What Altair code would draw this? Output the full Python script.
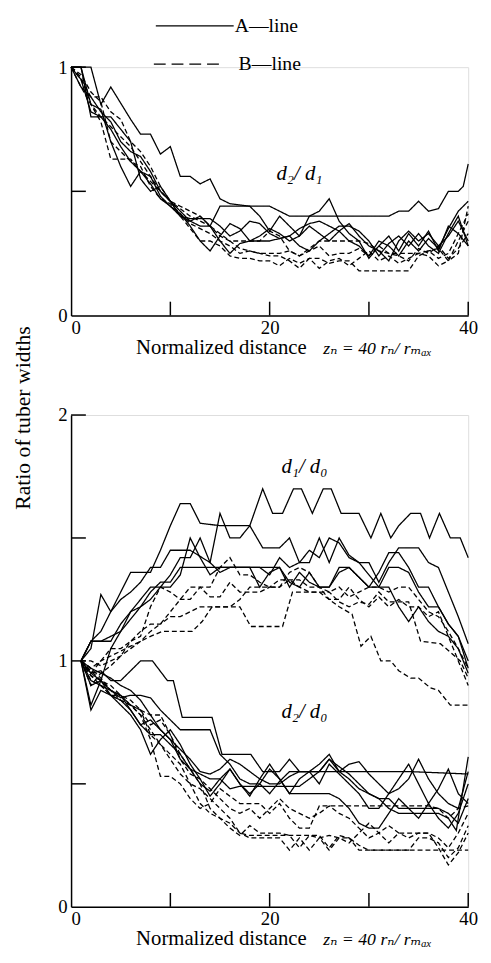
import altair as alt
import pandas as pd

# ---------------- data: top panel (d2/d1) ----------------
top_A1 = [(0,1),(2,1),(3,0.85),(4,0.92),(6,0.79),(7,0.73),(8,0.73),(9,0.65),(10,0.68),(11,0.56),(12,0.56),(13,0.53),(14,0.55),(15,0.47),(16,0.45),(18,0.44),(20,0.44),(22,0.40),(25,0.40),(28,0.40),(32,0.40),(33,0.42),(34,0.42),(35,0.46),(36,0.42),(37,0.43),(38,0.50),(39,0.50),(39.5,0.52),(40,0.61)]
top_A2 = [(0,1),(1,1),(2,0.8),(3,0.8),(4,0.8),(5,0.75),(6,0.7),(7,0.55),(8,0.5),(9,0.52),(10,0.46),(11,0.42),(12,0.38),(13,0.36),(14,0.36),(15,0.44),(16,0.44),(17,0.44),(18,0.44),(19,0.40),(20,0.34),(21,0.40),(22,0.36),(23,0.32),(24,0.40),(25,0.42),(26,0.47),(27,0.38),(28,0.33),(29,0.30),(30,0.23),(31,0.28),(32,0.32),(33,0.26),(34,0.33),(35,0.28),(36,0.34),(37,0.26),(38,0.36),(39,0.33),(40,0.28)]
top_A3 = [(0,1),(1,0.95),(2,0.82),(3,0.8),(4,0.75),(5,0.68),(6,0.62),(7,0.58),(8,0.53),(9,0.47),(10,0.44),(11,0.41),(12,0.36),(13,0.30),(14,0.26),(15,0.32),(16,0.37),(17,0.35),(18,0.30),(19,0.32),(20,0.35),(21,0.33),(22,0.30),(23,0.32),(24,0.36),(25,0.33),(26,0.30),(27,0.34),(28,0.37),(29,0.32),(30,0.28),(31,0.26),(32,0.22),(33,0.30),(34,0.34),(35,0.30),(36,0.33),(37,0.28),(38,0.32),(39,0.38),(40,0.30)]
top_A4 = [(0,1),(1,1),(2,0.85),(3,0.83),(4,0.70),(5,0.60),(6,0.52),(7,0.58),(8,0.56),(9,0.48),(10,0.44),(11,0.40),(12,0.38),(13,0.40),(14,0.36),(15,0.30),(16,0.25),(17,0.29),(18,0.30),(19,0.30),(20,0.30),(21,0.31),(22,0.32),(23,0.28),(24,0.26),(25,0.30),(26,0.33),(27,0.36),(28,0.36),(29,0.34),(30,0.30),(31,0.24),(32,0.29),(33,0.32),(34,0.28),(35,0.33),(36,0.28),(37,0.25),(38,0.33),(39,0.40),(40,0.28)]
top_A5 = [(0,1),(1,0.92),(2,0.88),(3,0.82),(4,0.78),(5,0.70),(6,0.66),(7,0.64),(8,0.58),(9,0.50),(10,0.46),(11,0.40),(12,0.39),(13,0.39),(14,0.39),(15,0.36),(16,0.32),(17,0.34),(18,0.38),(19,0.37),(20,0.33),(21,0.31),(22,0.32),(23,0.35),(24,0.37),(25,0.38),(26,0.36),(27,0.34),(28,0.30),(29,0.28),(30,0.24),(31,0.30),(32,0.28),(33,0.24),(34,0.30),(35,0.26),(36,0.31),(37,0.27),(38,0.35),(39,0.42),(40,0.46)]
top_B1 = [(0,1),(1,0.92),(2,0.85),(3,0.78),(4,0.63),(5,0.63),(6,0.63),(7,0.58),(8,0.54),(9,0.50),(10,0.46),(11,0.40),(12,0.35),(13,0.30),(14,0.30),(15,0.28),(16,0.24),(17,0.23),(18,0.23),(19,0.22),(20,0.22),(21,0.20),(22,0.23),(23,0.21),(24,0.23),(25,0.23),(26,0.21),(27,0.22),(28,0.22),(29,0.18),(34,0.18),(35,0.24),(36,0.26),(37,0.27),(38,0.22),(39,0.25),(40,0.44)]
top_B2 = [(0,1),(1,0.95),(2,0.88),(3,0.88),(4,0.82),(5,0.79),(6,0.70),(7,0.66),(8,0.60),(9,0.52),(10,0.46),(11,0.44),(12,0.42),(13,0.40),(14,0.36),(15,0.33),(16,0.30),(17,0.27),(18,0.26),(19,0.25),(20,0.24),(21,0.24),(22,0.22),(23,0.19),(24,0.23),(25,0.19),(26,0.22),(27,0.23),(28,0.20),(29,0.23),(30,0.26),(31,0.22),(32,0.24),(33,0.21),(34,0.23),(35,0.25),(36,0.24),(37,0.20),(38,0.22),(39,0.30),(40,0.38)]
top_B3 = [(0,1),(1,0.96),(2,0.85),(3,0.80),(4,0.76),(5,0.72),(6,0.68),(7,0.62),(8,0.56),(9,0.50),(10,0.46),(11,0.43),(12,0.40),(13,0.38),(14,0.36),(15,0.32),(16,0.30),(17,0.30),(18,0.30),(19,0.30),(20,0.34),(21,0.32),(22,0.26),(23,0.24),(24,0.27),(25,0.30),(26,0.30),(27,0.30),(28,0.30),(29,0.30),(30,0.29),(31,0.26),(32,0.25),(33,0.25),(34,0.25),(35,0.25),(36,0.26),(37,0.23),(38,0.25),(39,0.33),(40,0.41)]
top_B4 = [(0,1),(1,0.97),(2,0.90),(3,0.86),(4,0.70),(5,0.66),(6,0.62),(7,0.60),(8,0.52),(9,0.47),(10,0.45),(11,0.41),(12,0.37),(13,0.35),(14,0.33),(15,0.30),(16,0.28),(17,0.25),(18,0.26),(19,0.25),(20,0.25),(21,0.25),(22,0.26),(23,0.24),(24,0.26),(25,0.28),(26,0.24),(27,0.25),(28,0.25),(29,0.27),(30,0.24),(31,0.28),(32,0.25),(33,0.24),(34,0.22),(35,0.27),(36,0.25),(37,0.28),(38,0.23),(39,0.27),(40,0.33)]

# ---------------- data: bottom panel, d1/d0 ----------------
up_A1 = [(1,1),(2,1.08),(3,1.12),(4,1.2),(5,1.28),(6,1.36),(8,1.36),(9,1.45),(10,1.55),(11,1.64),(12,1.64),(13,1.56),(15,1.55),(18,1.55),(19.3,1.70),(20.3,1.60),(21.3,1.60),(22.4,1.70),(23.2,1.70),(24.3,1.60),(25.4,1.70),(26.2,1.70),(27.2,1.60),(29,1.60),(30.2,1.50),(31.2,1.60),(32.2,1.50),(33,1.55),(34.2,1.60),(35.2,1.60),(36.1,1.50),(37.1,1.60),(38.2,1.50),(39.2,1.50),(40,1.42)]
up_A2 = [(1,1),(2,1.05),(3,1.27),(4,1.2),(5,1.25),(6,1.28),(7,1.32),(8,1.38),(9,1.38),(10,1.45),(11,1.45),(12,1.45),(14,1.40),(15,1.60),(16,1.50),(17,1.50),(18,1.55),(19.3,1.46),(21,1.46),(22,1.50),(23,1.40),(24,1.40),(25,1.50),(26,1.40),(27,1.50),(28,1.43),(29,1.40),(30,1.40),(31,1.32),(32,1.40),(33,1.46),(34,1.46),(35,1.46),(36,1.40),(37,1.38),(38,1.28),(39,1.18),(40,1.07)]
up_A3 = [(1,1),(2,1.08),(3,1.08),(5,1.12),(6,1.2),(7,1.22),(8,1.28),(9,1.32),(10,1.32),(11,1.38),(15,1.38),(21,1.38),(22,1.32),(23,1.30),(24,1.36),(25,1.30),(26,1.30),(27,1.38),(28,1.38),(29,1.34),(30,1.30),(31,1.30),(32,1.38),(33,1.38),(34,1.36),(35,1.28),(36,1.22),(37,1.22),(38,1.15),(39,1.10),(40,1.00)]
up_A4 = [(1,1),(2,1.08),(4,1.08),(5,1.15),(6,1.2),(7,1.25),(8,1.30),(9,1.30),(10,1.35),(11,1.42),(12,1.42),(13,1.50),(14,1.40),(15,1.36),(16,1.38),(17,1.38),(18,1.38),(19,1.30),(20,1.36),(21,1.38),(22,1.30),(23,1.36),(24,1.32),(25,1.30),(26,1.30),(27,1.36),(28,1.38),(29,1.34),(30,1.30),(31,1.36),(32,1.44),(33,1.44),(34,1.38),(35,1.30),(36,1.30),(37,1.22),(38,1.15),(39,1.10),(40,0.97)]
up_A5 = [(1,1),(2,0.82),(3,0.92),(4,1.05),(5,1.12),(6,1.17),(7,1.22),(8,1.25),(9,1.30),(10,1.30),(11,1.35),(12,1.50),(13,1.42),(14,1.35),(15,1.38),(16,1.38),(18,1.38),(19,1.38),(20,1.35),(21,1.42),(22,1.38),(23,1.40),(24,1.45),(25,1.42),(26,1.50),(27,1.48),(28,1.42),(29,1.40),(30,1.35),(31,1.30),(32,1.30),(33,1.22),(34,1.16),(35,1.22),(36,1.16),(37,1.12),(38,1.10),(39,1.05),(40,0.95)]
up_B1 = [(1,1),(2,0.95),(3,1.0),(4,1.05),(5,1.05),(6,1.08),(7,1.12),(8,1.15),(9,1.15),(10,1.18),(11,1.18),(12,1.20),(13,1.22),(14,1.22),(16,1.22),(17,1.25),(18,1.30),(21,1.30),(22,1.33),(23,1.30),(24,1.28),(25,1.28),(26,1.25),(27,1.22),(28.3,1.19),(29.2,1.06),(30.2,1.10),(31.2,1.00),(32.2,1.00),(33,0.96),(34.2,0.93),(35,0.93),(36.2,0.89),(37,0.88),(38.2,0.82),(40,0.82)]
up_B2 = [(1,1),(2,0.97),(3,1.0),(4,1.02),(5,1.04),(6,1.06),(7,1.08),(8,1.10),(9.2,1.12),(12.2,1.12),(13.2,1.16),(14.2,1.22),(17,1.22),(18.1,1.14),(21.3,1.14),(22.3,1.28),(26,1.28),(27,1.24),(28,1.22),(29,1.24),(30,1.23),(31,1.28),(32,1.24),(34,1.24),(35.2,1.08),(37.2,1.07),(39.2,1.00),(40,0.93)]
up_B3 = [(1,1),(2,1.0),(3,0.98),(4,1.0),(5,1.02),(6,1.05),(7,1.08),(8,1.12),(9,1.15),(10,1.20),(11,1.25),(12,1.30),(13,1.30),(14,1.30),(15,1.38),(16,1.42),(17,1.35),(18,1.35),(19,1.32),(20,1.30),(21,1.30),(22,1.36),(23,1.38),(24,1.36),(25,1.30),(26,1.25),(27,1.25),(28,1.30),(29,1.25),(30,1.22),(31,1.26),(32,1.22),(33,1.25),(34,1.22),(35,1.22),(36,1.18),(37,1.20),(38,1.10),(39,1.00),(40,0.90)]
up_B4 = [(1,1),(2,0.9),(3,0.95),(4,0.98),(5,1.02),(6,1.08),(7,1.10),(8,1.22),(9,1.30),(10,1.28),(11,1.25),(12,1.25),(13,1.30),(14,1.26),(15,1.26),(16,1.32),(17,1.28),(19,1.28),(20,1.30),(21,1.33),(23,1.33),(24,1.30),(25,1.30),(26,1.28),(27,1.30),(28,1.26),(29,1.28),(30,1.30),(31,1.30),(32,1.28),(33,1.30),(34,1.30),(35,1.25),(36,1.20),(37,1.18),(38,1.12),(39,1.05),(40,0.97)]

# ---------------- data: bottom panel, d2/d0 ----------------
lo_A1 = [(1,1),(2,0.95),(3,0.96),(4,0.92),(5,0.92),(6,0.96),(7,1.0),(8.2,1.0),(9.7,0.92),(10.3,0.92),(11.2,0.77),(14.2,0.77),(15.2,0.62),(18.1,0.62),(19.3,0.55),(21,0.55),(22,0.60),(23,0.55),(28,0.55),(34,0.55),(40,0.54)]
lo_A2 = [(1,1),(2,0.95),(3,0.92),(4,0.88),(5,0.85),(6,0.86),(7,0.86),(8,0.85),(9,0.80),(10,0.76),(11,0.72),(14,0.72),(15,0.62),(16,0.58),(17,0.52),(18,0.50),(19,0.50),(20,0.46),(21,0.51),(22,0.55),(25,0.55),(26,0.60),(27,0.55),(28,0.52),(29,0.48),(30,0.46),(31,0.44),(32,0.40),(33,0.38),(37,0.38),(38,0.36),(38.8,0.31),(40,0.61)]
lo_A3 = [(1,1),(2,0.80),(3,0.88),(4,0.86),(5,0.82),(6,0.78),(7,0.72),(8,0.62),(9,0.68),(10,0.72),(11,0.66),(12,0.58),(13,0.52),(14,0.45),(15,0.50),(16,0.56),(17,0.50),(18,0.45),(19,0.52),(20,0.58),(21,0.52),(22,0.46),(23,0.52),(24,0.55),(25,0.50),(26,0.58),(27,0.54),(28,0.50),(29,0.46),(30,0.40),(31,0.40),(32,0.46),(33,0.52),(34,0.58),(35,0.50),(36,0.42),(37,0.48),(38,0.56),(39,0.46),(40,0.42)]
lo_A4 = [(1,1),(2,0.90),(3,0.92),(4,0.86),(5,0.84),(6,0.80),(7,0.74),(8,0.70),(9,0.70),(10,0.66),(11,0.62),(12,0.56),(13,0.50),(14,0.47),(15,0.52),(16,0.48),(17,0.49),(23,0.49),(24,0.52),(25,0.55),(26,0.60),(27,0.57),(28,0.54),(29,0.50),(30,0.46),(31,0.44),(32,0.44),(33,0.40),(37,0.40),(38,0.38),(39,0.34),(40,0.44)]
lo_A5 = [(1,1),(2,0.92),(3,0.90),(4,0.88),(5,0.86),(6,0.80),(7,0.74),(8,0.76),(9,0.72),(10,0.68),(11,0.60),(12,0.56),(13,0.54),(14,0.52),(15,0.52),(16,0.56),(17,0.50),(18,0.46),(19,0.50),(20,0.56),(21,0.52),(22,0.46),(26,0.46),(27,0.44),(28,0.40),(29,0.34),(30,0.32),(31,0.32),(32,0.38),(33,0.44),(34,0.40),(35,0.36),(36,0.42),(37,0.36),(38,0.32),(39,0.38),(40,0.50)]
lo_A6 = [(1,1),(2,0.97),(3,0.95),(4,0.93),(5,0.90),(6,0.88),(7,0.84),(8,0.78),(9,0.72),(10,0.68),(11,0.64),(12,0.60),(13,0.55),(14,0.54),(15,0.56),(16,0.60),(17,0.58),(18,0.55),(19,0.52),(20,0.50),(21,0.50),(22,0.53),(23,0.55),(24,0.55),(25,0.58),(26,0.62),(27,0.55),(28,0.58),(29,0.59),(30,0.54),(31,0.50),(32,0.46),(33,0.48),(34,0.52),(35,0.60),(36,0.52),(37,0.46),(38,0.42),(39,0.40),(40,0.55)]
lo_B1 = [(1,1),(2,0.94),(3,0.90),(4,0.86),(5,0.84),(6,0.82),(7,0.78),(8,0.72),(9,0.66),(10,0.62),(11,0.58),(12,0.50),(13,0.42),(14,0.38),(15,0.36),(16,0.34),(17,0.30),(18,0.28),(21,0.28),(22,0.23),(23,0.28),(24,0.23),(25,0.28),(26,0.23),(27,0.28),(28,0.28),(29,0.25),(30,0.23),(40,0.23)]
lo_B2 = [(1,1),(2,0.96),(3,0.92),(4,0.88),(5,0.86),(6,0.84),(7,0.80),(8,0.74),(9,0.76),(10,0.70),(11,0.62),(12,0.56),(13,0.50),(14,0.40),(15,0.36),(16,0.32),(17,0.29),(18,0.33),(19,0.30),(21,0.30),(22,0.29),(23,0.24),(24,0.29),(25,0.28),(26,0.29),(27,0.28),(28,0.26),(29,0.30),(30,0.34),(31,0.30),(32,0.26),(33,0.30),(36,0.30),(37,0.24),(38,0.17),(39,0.22),(40,0.30)]
lo_B3 = [(1,1),(2,0.92),(3,0.90),(4,0.86),(5,0.86),(6,0.82),(7,0.80),(8,0.70),(9,0.66),(10,0.60),(11,0.54),(12,0.50),(13,0.48),(14,0.44),(15,0.40),(16,0.36),(17,0.30),(18,0.29),(25,0.29),(26,0.24),(27,0.29),(28,0.28),(29,0.23),(34,0.23),(35,0.28),(36,0.28),(37,0.26),(38,0.20),(39,0.24),(40,0.33)]
lo_B4 = [(1,1),(2,0.97),(3,0.93),(4,0.88),(5,0.84),(6,0.82),(7,0.78),(8,0.68),(9,0.53),(10,0.53),(11,0.50),(12,0.44),(13,0.40),(14,0.42),(15,0.48),(16,0.45),(17,0.42),(19,0.42),(20,0.38),(21,0.42),(22,0.36),(23,0.32),(24,0.32),(25,0.41),(36,0.41),(37,0.40),(38,0.36),(39,0.40),(40,0.41)]
lo_B5 = [(1,1),(2,0.94),(3,0.92),(4,0.90),(5,0.86),(6,0.82),(7,0.80),(8,0.78),(9,0.78),(10,0.70),(11,0.60),(12,0.54),(13,0.52),(14,0.48),(15,0.44),(16,0.40),(17,0.38),(18,0.40),(19,0.36),(20,0.40),(21,0.44),(22,0.40),(23,0.38),(24,0.36),(25,0.38),(26,0.41),(27,0.38),(28,0.36),(29,0.32),(30,0.28),(31,0.30),(32,0.33),(33,0.30),(34,0.28),(35,0.30),(36,0.30),(37,0.28),(38,0.24),(39,0.30),(40,0.38)]

top_series = {"tA1": top_A1, "tA2": top_A2, "tA3": top_A3, "tA4": top_A4, "tA5": top_A5,
              "tB1": top_B1, "tB2": top_B2, "tB3": top_B3, "tB4": top_B4}
bottom_series = {"uA1": up_A1, "uA2": up_A2, "uA3": up_A3, "uA4": up_A4, "uA5": up_A5,
                 "uB1": up_B1, "uB2": up_B2, "uB3": up_B3, "uB4": up_B4,
                 "lA1": lo_A1, "lA2": lo_A2, "lA3": lo_A3, "lA4": lo_A4, "lA5": lo_A5, "lA6": lo_A6,
                 "lB1": lo_B1, "lB2": lo_B2, "lB3": lo_B3, "lB4": lo_B4, "lB5": lo_B5}

x_ticks = [10, 20, 30, 40]
top_y_ticks = [0.5, 1]
bottom_y_ticks = [0.5, 1, 1.5, 2]
top_labels = [("d\u2082/ d\u2081", 23, 0.57)]
bottom_labels = [("d\u2081/ d\u2080", 23.5, 1.79), ("d\u2082/ d\u2080", 23.5, 0.79)]

FONT = "Liberation Serif, Times New Roman, Tinos, DejaVu Serif, serif"
FS = 19
W = 403
H_TOP = 252
H_BOT = 499


def to_df(series):
    rows = []
    for name, pts in series.items():
        for i, (x, y) in enumerate(pts):
            rows.append({"id": name, "style": name[1], "x": x, "y": y, "i": i})
    return pd.DataFrame(rows)


def panel(series, ydom, yvals, ylabelexpr, yticks, labels, H):
    xs = alt.Scale(domain=[0, 40], nice=False, zero=False)
    ys = alt.Scale(domain=ydom, nice=False, zero=True)
    xaxis = alt.Axis(values=[0, 10, 20, 30, 40], labelExpr="datum.value % 20 == 0 ? datum.label : ''",
                     format="d", ticks=False, grid=False, title=None, domainColor="black",
                     domainWidth=1.5, labelFont=FONT, labelFontSize=FS, labelColor="black",
                     labelPadding=3, labelFlush=False,
                     labelAlign={"condition": {"test": "datum.value == 0", "value": "left"}, "value": "center"})
    yaxis = alt.Axis(values=yvals, labelExpr=ylabelexpr, ticks=False, grid=False, title=None,
                     domainColor="black", domainWidth=1.5, labelFont=FONT, labelFontSize=FS,
                     labelColor="black", labelPadding=4, labelFlush=False)
    df = to_df(series)
    lines = alt.Chart(df).mark_line(color="black", strokeWidth=1.3).encode(
        x=alt.X("x:Q", scale=xs, axis=xaxis),
        y=alt.Y("y:Q", scale=ys, axis=yaxis),
        detail="id:N",
        order="i:Q",
        strokeDash=alt.StrokeDash("style:N", scale=alt.Scale(domain=["A", "B"], range=[[1, 0], [5, 3]]),
                                  legend=None),
    )
    xt = alt.Chart(pd.DataFrame({"t": x_ticks})).mark_rule(color="black", strokeWidth=1.5).encode(
        x=alt.X("t:Q", scale=xs), y=alt.value(H), y2=alt.value(H - 14))
    yt = alt.Chart(pd.DataFrame({"t": yticks})).mark_rule(color="black", strokeWidth=1.5).encode(
        y=alt.Y("t:Q", scale=ys), x=alt.value(0), x2=alt.value(15))
    lab = alt.Chart(pd.DataFrame(labels, columns=["text", "x", "y"])).mark_text(
        font=FONT, fontSize=21, fontStyle="italic", color="black").encode(
        x=alt.X("x:Q", scale=xs), y=alt.Y("y:Q", scale=ys), text="text:N")
    t1 = alt.Chart(pd.DataFrame({"a": [0]})).mark_text(
        text="Normalized distance", font=FONT, fontSize=21, color="black", align="left", baseline="middle"
    ).encode(x=alt.value(66), y=alt.value(H + 33))
    t2 = alt.Chart(pd.DataFrame({"a": [0]})).mark_text(
        text="z\u2099 = 40 r\u2099/ r\u2098\u2090\u2093", font=FONT, fontSize=18, fontStyle="italic",
        color="black", align="left", baseline="middle"
    ).encode(x=alt.value(256), y=alt.value(H + 34))
    return [lines, xt, yt, lab, t1, t2]


top_layers = panel(top_series, [0, 1], [0, 0.5, 1],
                   "datum.value == 1 ? '1' : (datum.value == 0 ? '0' : '')",
                   top_y_ticks, top_labels, H_TOP)
one = pd.DataFrame({"a": [0]})
legA_line = alt.Chart(one).mark_rule(color="black", strokeWidth=1.3).encode(
    x=alt.value(86), x2=alt.value(165), y=alt.value(-42))
legA_text = alt.Chart(one).mark_text(text="A\u2014line", font=FONT, fontSize=20, color="black",
                                     align="left", baseline="middle").encode(x=alt.value(166), y=alt.value(-42))
legB_line = alt.Chart(one).mark_rule(color="black", strokeWidth=1.3, strokeDash=[12, 6]).encode(
    x=alt.value(84), x2=alt.value(150), y=alt.value(-3))
legB_text = alt.Chart(one).mark_text(text="B\u2014line", font=FONT, fontSize=20, color="black",
                                     align="left", baseline="middle").encode(x=alt.value(170), y=alt.value(-3))
top = alt.layer(*top_layers, legA_line, legA_text, legB_line, legB_text).properties(width=W, height=H_TOP)

bottom_layers = panel(bottom_series, [0, 2], [0, 0.5, 1, 1.5, 2],
                      "datum.value % 1 == 0 ? format(datum.value, 'd') : ''",
                      bottom_y_ticks, bottom_labels, H_BOT)
ytitle = alt.Chart(one).mark_text(text="Ratio of tuber widths", font=FONT, fontSize=22, color="black",
                                  angle=270, align="center", baseline="middle").encode(
    x=alt.value(-49), y=alt.value(3))
bottom = alt.layer(*bottom_layers, ytitle).properties(width=W, height=H_BOT)

chart = alt.vconcat(top, bottom, spacing=101, bounds="flush").properties(
    padding={"left": 3, "top": 0, "right": 5, "bottom": 5}
).configure_view(stroke=None).configure(background="white")

chart.save("out.html", embed_options={"renderer": "svg", "actions": False})
